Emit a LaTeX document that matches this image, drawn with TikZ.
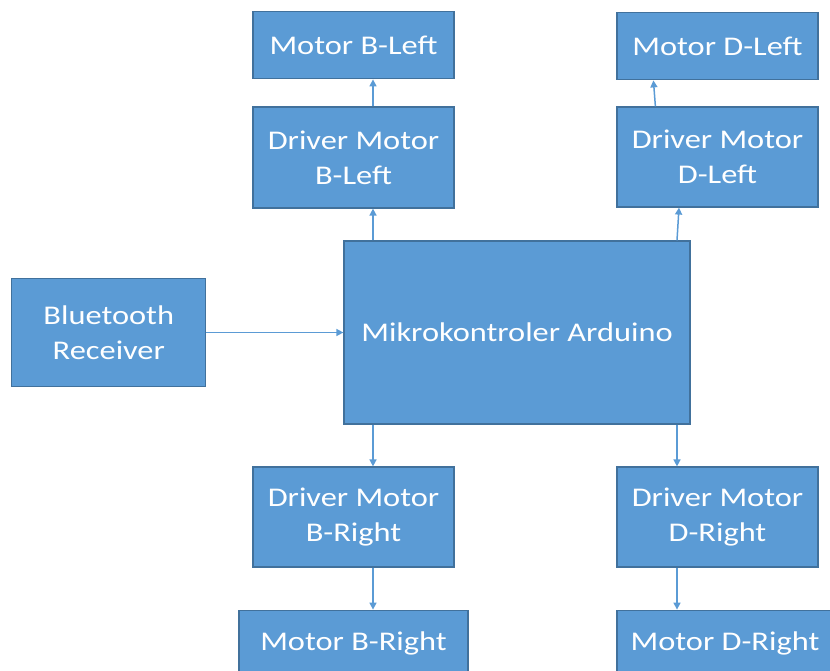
\documentclass[tikz,border=0pt]{standalone}
\usepackage{fontspec}
\setmainfont{Carlito}[FakeStretch=1.2]
\usetikzlibrary{arrows.meta,positioning,calc}
\definecolor{BoxFill}{HTML}{5B9BD5}
\definecolor{BoxStroke}{HTML}{41719C}
\tikzset{
  block/.style={draw=BoxStroke, fill=BoxFill, line width=1.2pt, text=white,
    align=center, inner sep=0pt, font=\fontsize{27}{35}\selectfont},
  link/.style={-{Triangle[length=7pt,width=7pt]}, BoxFill, line width=1.5pt}
}

\begin{document}
\begin{tikzpicture}[x=1pt, y=-1pt]
  \useasboundingbox (0,0) rectangle (830,671);
  \clip (0,0) rectangle (830,671);

  \node[block, minimum width=346pt, minimum height=183pt] (ard) at (517,332.5) {Mikrokontroler Arduino};
  \node[block, minimum width=194pt, minimum height=108pt, left=137pt of ard] (bt) {Bluetooth\\Receiver};

  \node[block, minimum width=201pt, minimum height=101pt] (drvBL) at (353.5,157.5) {Driver Motor\\B-Left};
  \node[block, minimum width=201pt, minimum height=67pt, above=27pt of drvBL] (motBL) {Motor B-Left};
  \node[block, minimum width=201pt, minimum height=100pt] (drvDL) at (717.5,157) {Driver Motor\\D-Left};
  \node[block, minimum width=201pt, minimum height=67pt, above=26pt of drvDL] (motDL) {Motor D-Left};

  \node[block, minimum width=201pt, minimum height=100pt] (drvBR) at (353.5,517) {Driver Motor\\B-Right};
  \node[block, minimum width=229pt, minimum height=67pt, below=42pt of drvBR] (motBR) {Motor B-Right};
  \node[block, minimum width=201pt, minimum height=100pt] (drvDR) at (717.5,517) {Driver Motor\\D-Right};
  \node[block, minimum width=216pt, minimum height=67pt, below right=42pt and 0pt of drvDR.south west] (motDR) {Motor D-Right};

  \coordinate (colB) at (373,0);
  \coordinate (colD) at (677,0);

  \draw[link] (bt) -- (ard);
  \draw[link] (ard.north -| colB) -- (drvBL.south -| colB);
  \draw[link] (drvBL.north -| colB) -- (motBL.south -| colB);
  \draw[link] (ard.north -| colD) -- ($(drvDL.south -| colD)+(2,0)$);
  \draw[link] ($(drvDL.north west)+(39,0)$) -- ($(motDL.south west)+(37,0)$);
  \draw[link] (ard.south -| colB) -- (drvBR.north -| colB);
  \draw[link] (drvBR.south -| colB) -- (motBR.north -| colB);
  \draw[link] (ard.south -| colD) -- (drvDR.north -| colD);
  \draw[link] (drvDR.south -| colD) -- (motDR.north -| colD);
\end{tikzpicture}
\end{document}
